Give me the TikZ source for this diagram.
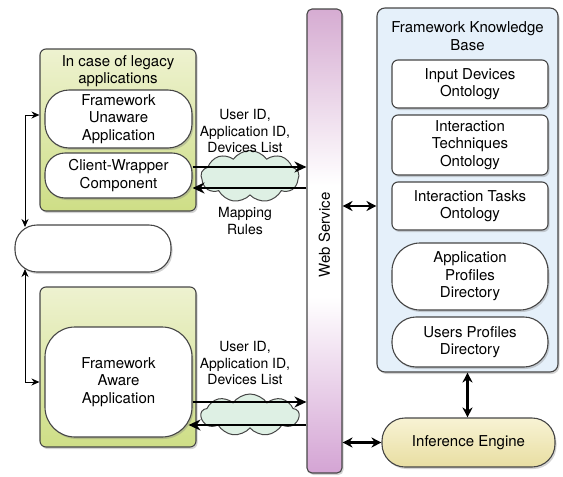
\documentclass[tikz,border=0pt]{standalone}
\usepackage{fontspec}
\setmainfont{TeX Gyre Heros}
\usetikzlibrary{arrows.meta, shapes.symbols, shadows}

\definecolor{greentop}{RGB}{238,242,208}
\definecolor{greenbot}{RGB}{206,222,134}
\definecolor{kbblue}{RGB}{229,240,250}
\definecolor{cloudgreen}{RGB}{222,240,228}
\definecolor{webtop}{RGB}{214,172,210}
\definecolor{webbot}{RGB}{212,164,212}
\definecolor{enginetop}{RGB}{248,243,212}
\definecolor{enginebot}{RGB}{232,222,162}
\definecolor{edge}{RGB}{70,70,70}

\pgfdeclareverticalshading{webshade}{100bp}{color(0bp)=(webbot); color(25bp)=(webbot); color(44bp)=(white); color(56bp)=(white); color(75bp)=(webtop); color(100bp)=(webtop)}

\tikzset{
  shade box/.style={drop shadow={shadow xshift=1.5pt, shadow yshift=-2pt, opacity=.35}},
  greenbox/.style={draw=edge, line width=1.1pt, rounded corners=6pt, shade box,
    top color=greentop, bottom color=greenbot, minimum width=156pt, inner sep=0pt},
  pill/.style={draw=edge, line width=1.1pt, fill=white, align=center, inner sep=0pt,
    minimum width=147pt, shade box},
  onto/.style={draw=edge, line width=1.1pt, fill=white, align=center, inner sep=0pt,
    minimum width=156pt, rounded corners=6pt, shade box},
  cloudy/.style={cloud, cloud puffs=9, cloud puff arc=110, cloud ignores aspect, draw=edge,
    line width=1pt, fill=cloudgreen, inner sep=0pt},
  label/.style={align=center, font=\fontsize{14}{16.5}\selectfont},
  bigarr/.style={line width=2.4pt, -{Stealth[length=12pt,width=11pt]}},
  dblarr/.style={line width=2.4pt, {Stealth[length=10pt,width=10pt]}-{Stealth[length=10pt,width=10pt]}},
  thinarr/.style={line width=1pt, {Stealth[length=8pt,width=7pt]}-{Stealth[length=8pt,width=7pt]}}
}

\begin{document}
\begin{tikzpicture}[x=1pt, y=-1pt, font=\fontsize{15}{17.5}\selectfont]
\useasboundingbox (0,0) rectangle (563,477);

% Legacy applications
\node[greenbox, minimum height=162pt] (legacy) at (118,130) {};
\node[align=center] (legacytitle) at (118,71) {In case of legacy\\applications};
\node[pill, minimum height=58pt, rounded corners=24pt] (unaware) at (118.5,119) {Framework\\Unaware\\Application};
\node[pill, minimum height=45pt, rounded corners=20pt] (wrapper) at (118.5,175.5) {Client-Wrapper\\Component};

% Empty box in between
\node[pill, minimum width=156pt, minimum height=47pt, rounded corners=22pt] (blank) at (93,248.5) {};

% Framework aware application
\node[greenbox, minimum height=160pt] (awarebox) at (118,367) {};
\node[pill, minimum height=110pt, rounded corners=30pt] (aware) at (118.5,382) {Framework\\Aware\\Application};

% Web service bar
\node[draw=edge, line width=1.1pt, rounded corners=5pt, shading=webshade, shade box,
  minimum width=35pt, minimum height=464pt, inner sep=0pt] (web) at (324.5,241) {};
\node[rotate=90] (webtext) at (324.5,235) {Web Service};

% Clouds and their labels
\node[cloudy, minimum width=98pt, minimum height=52pt] (cloudtop) at (250,176.5) {};
\node[label] (sendtop) at (245,131) {User ID,\\Application ID,\\Devices List};
\node[label] (maptop) at (245,221) {Mapping\\Rules};
\node[cloudy, minimum width=98pt, minimum height=42pt] (cloudbot) at (250,415) {};
\node[label] (sendbot) at (245,363) {User ID,\\Application ID,\\Devices List};

% Knowledge base
\node[draw=edge, line width=1.1pt, rounded corners=8pt, fill=kbblue, shade box,
  minimum width=181pt, minimum height=364pt, inner sep=0pt] (kb) at (467.5,190) {};
\node[align=center] (kbtitle) at (467.5,36) {Framework Knowledge\\Base};
\node[onto, minimum height=48pt] (idev) at (470,84) {Input Devices\\Ontology};
\node[onto, minimum height=60pt] (itech) at (470,145) {Interaction\\Techniques\\Ontology};
\node[onto, minimum height=48pt] (itask) at (470,206) {Interaction Tasks\\Ontology};
\node[onto, minimum height=67pt, rounded corners=28pt] (appdir) at (470,276.5) {Application\\Profiles\\Directory};
\node[onto, minimum height=50pt, rounded corners=24pt] (userdir) at (470,342) {Users Profiles\\Directory};

% Inference engine
\node[draw=edge, line width=1.1pt, rounded corners=23pt, top color=enginetop, bottom color=enginebot,
  shade box, minimum width=173pt, minimum height=49pt, inner sep=0pt] (engine) at (468.5,442.5) {Inference Engine};

% Left connectors
\coordinate (ltop) at (25,227);
\coordinate (lbot) at (25,269);
\draw[thinarr] (ltop) |- ([yshift=15pt]legacy.west);
\draw[thinarr] (lbot) |- ([yshift=-15pt]awarebox.west);

% Arrows through the clouds
\coordinate (wout) at ([yshift=8.5pt]wrapper.east);
\coordinate (win) at ([yshift=-12.5pt]wrapper.east);
\draw[bigarr] (wout) -- (wout -| web.west);
\draw[bigarr] (win -| web.west) -- (win);
\coordinate (aout) at ([yshift=-20pt]aware.east);
\coordinate (ain) at ([yshift=-43pt]aware.east);
\draw[bigarr] (aout) -- (aout -| web.west);
\draw[bigarr] (ain -| web.west) -- ([xshift=-4pt]ain);

% Double arrows
\draw[dblarr] (itask.center -| web.east) -- (itask.center -| kb.west);
\draw[dblarr] (kb.south) -- (kb.south |- engine.north);
\draw[dblarr] (engine.west -| web.east) -- (engine.west);

\end{tikzpicture}
\end{document}
